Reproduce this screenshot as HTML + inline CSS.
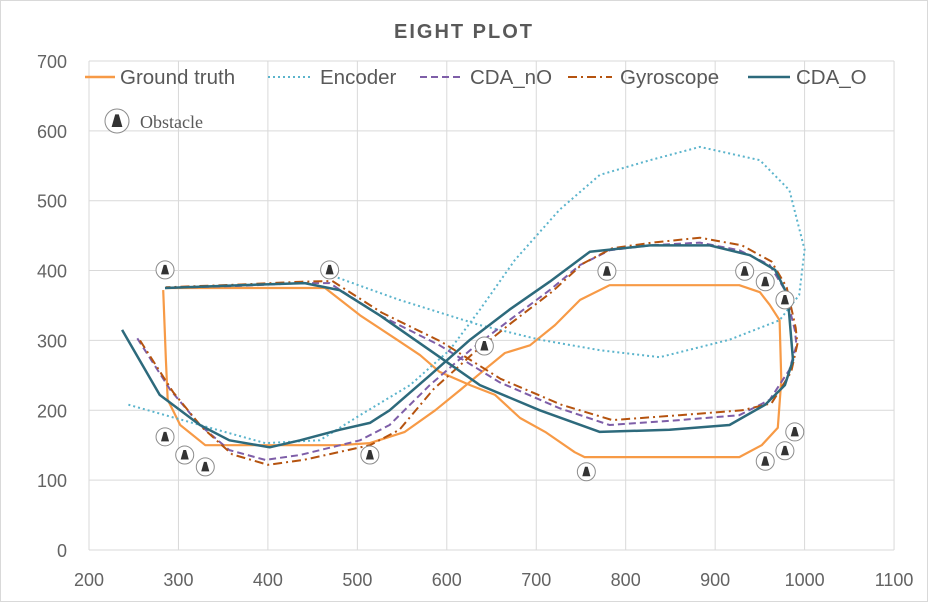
<!DOCTYPE html>
<html><head><meta charset="utf-8"><style>
body{margin:0;background:#fff}
#c{position:relative;width:926px;height:600px;border:1px solid #d9d9d9;font-family:"Liberation Sans",sans-serif}
svg text{font-family:"Liberation Sans",sans-serif}
</style></head><body>
<div id="c">
<svg id="s" width="928" height="613" style="position:absolute;left:-1px;top:-1px">
<text x="464" y="38" text-anchor="middle" font-size="20" font-weight="bold" fill="#595959" letter-spacing="2">EIGHT PLOT</text>
<g id="grid"></g>
<g id="ticks"></g>
<g id="series"></g>
<g id="obs"></g>
<g>
<line x1="85" y1="77" x2="115" y2="77" stroke="#f79a46" stroke-width="2.5"/>
<text x="120" y="84" font-size="20.5" fill="#595959">Ground truth</text>
<line x1="268" y1="77" x2="312" y2="77" stroke="#5bb4cc" stroke-width="2" stroke-dasharray="2,3"/>
<text x="320" y="84" font-size="20.5" fill="#595959">Encoder</text>
<line x1="420" y1="77" x2="462" y2="77" stroke="#7e5ea8" stroke-width="2" stroke-dasharray="7,4"/>
<text x="470" y="84" font-size="20.5" fill="#595959">CDA_nO</text>
<line x1="568" y1="77" x2="612" y2="77" stroke="#b5530f" stroke-width="2" stroke-dasharray="9,4,2,4"/>
<text x="620" y="84" font-size="20.5" fill="#595959">Gyroscope</text>
<line x1="748" y1="77" x2="790" y2="77" stroke="#2d6a7c" stroke-width="2.5"/>
<text x="796" y="84" font-size="20.5" fill="#595959">CDA_O</text>
<g id="legobs"></g>
<text x="140" y="128" font-size="18" fill="#595959" font-family="Liberation Serif" style="font-family:'Liberation Serif',serif">Obstacle</text>
</g>
</svg></div>
<script>
const xTicks=[200,300,400,500,600,700,800,900,1000,1100];
const yTicks=[0,100,200,300,400,500,600,700];
const groundX=[285,464,503,542,570,592,626,654,682,710,743,754,927,952,970,974,972,961,950,927,782,749,721,693,665,642,615,587,553,514,480,330,302,288,286,283];
const groundY=[375,375,336,303,279,255,236,222,189,169,140,133,133,150,175,243,329,351,369,379,379,358,322,293,282,258,229,200,169,153,150,150,179,215,272,372];
const encX=[244,324,397,458,503,559,603,637,676,726,771,827,883,950,983,1000,994,972,916,838,771,704,637,547,469];
const encY=[208,179,153,157,193,236,286,344,415,487,537,558,577,558,515,430,365,329,301,276,286,301,322,358,394];
const cnX=[254,291,324,357,397,436,503,536,581,626,670,715,749,782,827,883,927,961,978,989,991,983,961,927,860,782,726,659,592,525,469,436,369,285];
const cnY=[303,229,179,143,129,136,157,179,236,286,329,372,408,429,436,440,429,408,372,315,293,258,215,193,186,179,203,240,293,336,382,382,378,375];
const gyX=[257,294,326,360,400,440,514,547,585,630,673,718,752,785,830,883,930,963,980,990,992,985,963,930,860,785,728,660,594,527,472,438,370,286];
const gyY=[300,226,176,137,122,129,150,172,230,282,326,370,410,432,440,447,436,413,376,318,295,255,210,200,193,186,208,245,298,340,385,384,380,376];
const coX=[237,279,324,357,402,436,480,514,536,581,626,670,715,760,827,894,939,967,981,987,978,956,916,849,771,704,637,581,525,480,441,369,285];
const coY=[315,222,179,157,147,157,172,182,200,250,301,344,384,427,436,436,422,401,365,272,236,208,179,172,169,200,236,286,336,372,382,379,375];
const obsX=[285,469,779,933,956,978,642,285,307,330,514,756,956,978,989];
const obsY=[401,401,399,399,384,358,292,162,136,119,136,112,127,142,169];
const NS='http://www.w3.org/2000/svg';
const X=v=>89+(v-200)*0.8945, Y=v=>550-v*0.6986;
function mk(t,a,p){const e=document.createElementNS(NS,t);for(const k in a)e.setAttribute(k,a[k]);p.appendChild(e);return e;}
const grid=document.getElementById('grid'),ticks=document.getElementById('ticks');
xTicks.forEach(v=>{const l=mk('line',{x1:X(v),x2:X(v),y1:Y(0),y2:Y(700),stroke:'#d9d9d9'},grid);


const t=mk('text',{x:X(v),y:586,'text-anchor':'middle','font-size':18,fill:'#636363'},ticks);t.textContent=v;

});
yTicks.forEach(v=>{const l=mk('line',{x1:X(200),x2:X(1100),y1:Y(v),y2:Y(v),stroke:'#d9d9d9'},grid);


const t=mk('text',{x:67,y:Y(v)+7,'text-anchor':'end','font-size':18,fill:'#636363'},ticks);t.textContent=v;

});
const ser=document.getElementById('series');
function line(xs,ys,st,name){const d=xs.map((x,i)=>(i?'L':'M')+X(x).toFixed(1)+','+Y(ys[i]).toFixed(1)).join('');
const p=mk('path',Object.assign({d:d,fill:'none','stroke-linejoin':'round'},st),ser);

}
line(groundX,groundY,{stroke:'#f79a46','stroke-width':2.2},'ground-truth-line');
line(encX,encY,{stroke:'#5bb4cc','stroke-width':2,'stroke-dasharray':'2,3'},'encoder-line');
line(cnX,cnY,{stroke:'#7e5ea8','stroke-width':2,'stroke-dasharray':'7,4'},'cda-no-line');
line(gyX,gyY,{stroke:'#b5530f','stroke-width':2,'stroke-dasharray':'9,4,2,4'},'gyroscope-line');
line(coX,coY,{stroke:'#2d6a7c','stroke-width':2.5},'cda-o-line');
function cone(cx,cy,p,r){const g=mk('g',{},p);
mk('circle',{cx:cx,cy:cy,r:r,fill:'#fff',stroke:'#8c8c8c','stroke-width':1},g);
mk('path',{d:`M${cx-r*0.45},${cy+r*0.5}L${cx-r*0.15},${cy-r*0.55}L${cx+r*0.15},${cy-r*0.55}L${cx+r*0.45},${cy+r*0.5}Z`,fill:'#333'},g);return g;}
const og=document.getElementById('obs');
obsX.forEach((v,i)=>{const g=cone(X(v),Y(obsY[i]),og,9);

});
const lg=cone(117,121,document.getElementById('legobs'),12);


</script>
</body></html>
